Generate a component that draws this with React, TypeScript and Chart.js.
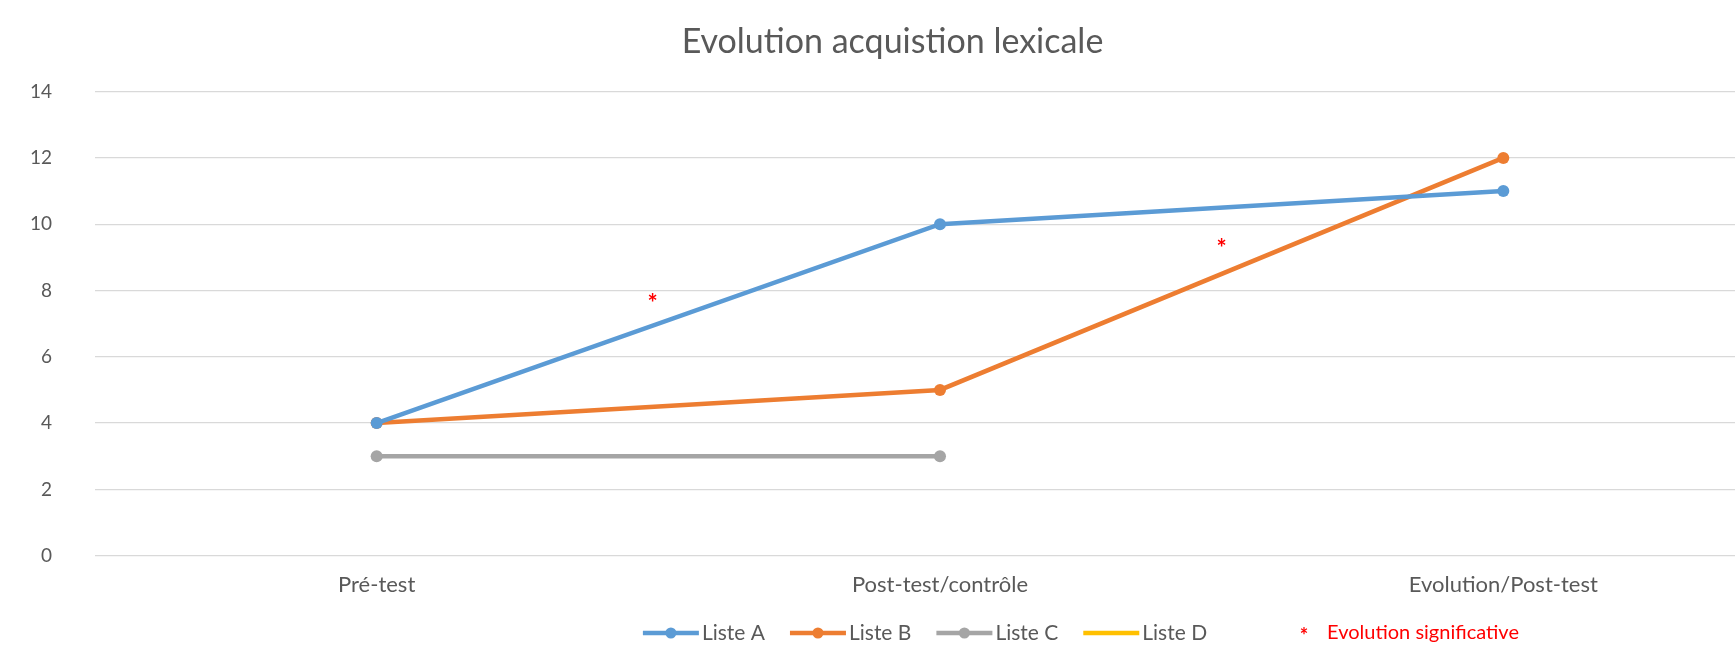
import React, { useEffect, useRef } from "react";
import { Chart, registerables } from "chart.js";
Chart.register(...registerables);

const categories = ["Pré-test", "Post-test/contrôle", "Evolution/Post-test"];
const listeA: (number | null)[] = [4, 10, 11];
const listeB: (number | null)[] = [4, 5, 12];
const listeC: (number | null)[] = [3, 3, null];
const listeD: (number | null)[] = [null, null, null];
const seriesNames = ["Liste A", "Liste B", "Liste C", "Liste D"];
const seriesColors = ["#5B9BD5", "#ED7D31", "#A5A5A5", "#FFC000"];
const sigX = [0.49, 1.5];
const sigY = [7.7, 9.35];
const sigLabel = "Evolution significative";
const titleText = "Evolution acquistion lexicale";

const FONT = "Lato, 'Open Sans', sans-serif";
const GREY = "#595959";
const RED = "#ff0000";

const LEGEND_Y = 633;
const LEG_LINE = 56;
const LEG_TEXT_GAP = 3;
const LEG_ITEM_GAP = 25;
const LEG_FONT = 21;

const extrasPlugin = {
  id: "extras",
  afterDatasetsDraw(chart: any) {
    const { ctx, scales } = chart;
    ctx.save();
    ctx.fillStyle = RED;
    ctx.font = `bold 24px ${FONT}`;
    ctx.textAlign = "center";
    ctx.textBaseline = "middle";
    sigX.forEach((v, i) => {
      const px = scales.x.getPixelForValue(v);
      const py = scales.y.getPixelForValue(sigY[i]);
      ctx.fillText("*", px, py + 4);
    });
    ctx.restore();
  },
  afterDraw(chart: any) {
    const { ctx } = chart;
    const dsets = chart.data.datasets;
    ctx.save();
    ctx.font = `${LEG_FONT}px ${FONT}`;
    const widths = dsets.map((ds: any) => LEG_LINE + LEG_TEXT_GAP + ctx.measureText(ds.label).width);
    const total = widths.reduce((a: number, b: number) => a + b, 0) + LEG_ITEM_GAP * (dsets.length - 1);
    let x = chart.width / 2 - total / 2;
    const cy = LEGEND_Y;
    dsets.forEach((ds: any, i: number) => {
      ctx.strokeStyle = ds.borderColor;
      ctx.lineWidth = 4.5;
      ctx.lineCap = "butt";
      ctx.beginPath();
      ctx.moveTo(x, cy);
      ctx.lineTo(x + LEG_LINE, cy);
      ctx.stroke();
      if (ds.pointRadius > 0) {
        ctx.beginPath();
        ctx.fillStyle = ds.borderColor;
        ctx.arc(x + LEG_LINE / 2, cy, 5.5, 0, Math.PI * 2);
        ctx.fill();
      }
      ctx.fillStyle = GREY;
      ctx.textAlign = "left";
      ctx.textBaseline = "middle";
      ctx.fillText(ds.label, x + LEG_LINE + LEG_TEXT_GAP, cy);
      x += widths[i] + LEG_ITEM_GAP;
    });
    const endX = x - LEG_ITEM_GAP;
    ctx.fillStyle = RED;
    ctx.textAlign = "center";
    ctx.font = `bold 20px ${FONT}`;
    ctx.fillText("*", endX + 97, cy + 4);
    ctx.textAlign = "left";
    ctx.font = `20px ${FONT}`;
    ctx.fillText(sigLabel, endX + 120, cy);
    ctx.restore();
  },
};

export default function App() {
  const ref = useRef<HTMLCanvasElement | null>(null);
  useEffect(() => {
    if (!ref.current) return;
    const mk = (label: string, data: (number | null)[], color: string, pr: number) => ({
      label,
      data,
      borderColor: color,
      backgroundColor: color,
      borderWidth: 4.5,
      pointRadius: pr,
      pointHoverRadius: pr,
      pointBackgroundColor: color,
      pointBorderWidth: 0,
      tension: 0,
      spanGaps: false,
    });
    const chart = new Chart(ref.current, {
      type: "line",
      data: {
        labels: categories,
        datasets: [
          mk(seriesNames[0], listeA, seriesColors[0], 6),
          mk(seriesNames[1], listeB, seriesColors[1], 6),
          mk(seriesNames[2], listeC, seriesColors[2], 6),
          mk(seriesNames[3], listeD, seriesColors[3], 0),
        ],
      },
      options: {
        animation: false,
        responsive: false,
        maintainAspectRatio: false,
        layout: { padding: { left: 0, right: 65, top: 0, bottom: 48.3 } },
        plugins: {
          tooltip: { enabled: false },
          legend: { display: false },
          title: {
            display: true,
            text: titleText,
            color: GREY,
            font: { family: FONT, size: 34, weight: "normal" },
            padding: { top: 21.5, bottom: 29.3 },
          },
        },
        scales: {
          x: {
            type: "category",
            offset: true,
            grid: { display: false },
            border: { display: false },
            ticks: { color: GREY, padding: 7.8, font: { family: FONT, size: 22 } },
          },
          y: {
            min: 0,
            max: 14,
            ticks: { stepSize: 2, color: GREY, padding: 43, font: { family: FONT, size: 19 } },
            grid: { color: "#d9d9d9", lineWidth: 1.3, drawTicks: false },
            border: { display: false },
            afterFit(s: any) {
              s.width = 95;
            },
          },
        },
      } as any,
      plugins: [extrasPlugin],
    });
    return () => chart.destroy();
  }, []);
  return (
    <div style={{ position: "absolute", left: 0, top: 0, width: 1735, height: 654, overflow: "hidden", background: "#fff" }}>
      <canvas ref={ref} width={1850} height={654} style={{ display: "block", width: 1850, height: 654 }} />
    </div>
  );
}
